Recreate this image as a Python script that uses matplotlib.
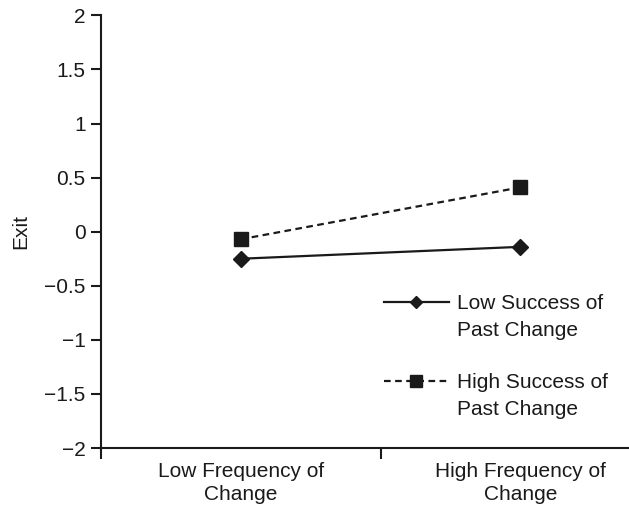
import matplotlib
matplotlib.use("Agg")
import matplotlib.pyplot as plt
from matplotlib.lines import Line2D
from matplotlib.ticker import FixedLocator, FuncFormatter

categories = ["Low Frequency of\nChange", "High Frequency of\nChange"]
low_success = [-0.25, -0.14]
high_success = [-0.07, 0.41]
series_labels = [("Low Success of", "Past Change"), ("High Success of", "Past Change")]
y_ticks = [-2, -1.5, -1, -0.5, 0, 0.5, 1, 1.5, 2]

plt.rcParams['font.family'] = ['Liberation Sans', 'DejaVu Sans']
fs = 15
ink = '#1a1a1a'

fig = plt.figure(figsize=(6.29, 5.07), dpi=100)
ax = fig.add_axes([101/629, 59/507, 559/629, 432.6/507])

x = list(range(len(categories)))
l1, = ax.plot(x, low_success, color=ink, lw=1.6, marker='D', markersize=8)
l2, = ax.plot(x, high_success, color=ink, lw=1.6, ls=(0, (3, 2)), marker='s',
              markersize=10)

ax.set_xlim(-0.5, 1.5)
ax.set_ylim(-2, 2)
for s in ['top', 'right']:
    ax.spines[s].set_visible(False)
for s in ['left', 'bottom']:
    ax.spines[s].set_linewidth(1.5)
    ax.spines[s].set_color(ink)

ax.xaxis.set_major_locator(FixedLocator([-0.5, 0.5, 1.5]))
ax.xaxis.set_major_formatter(FuncFormatter(lambda v, p: ''))
ax.xaxis.set_minor_locator(FixedLocator(x))
ax.set_xticklabels(categories, minor=True)
ax.tick_params(axis='x', which='major', length=8, width=1.5, direction='out', color=ink)
ax.tick_params(axis='x', which='minor', length=0, labelsize=fs, pad=10, colors=ink)
for t in ax.xaxis.get_minorticklabels():
    t.set_linespacing(1.25)

ax.set_yticks(y_ticks)
ax.yaxis.set_major_formatter(FuncFormatter(lambda v, p: ('%g' % v).replace('-', '\u2212')))
ax.tick_params(axis='y', length=7, width=1.5, direction='out', labelsize=fs, pad=4, colors=ink)

ax.set_ylabel('Exit', fontsize=fs, labelpad=10, color=ink)

blank = Line2D([], [], color='none')
h1 = Line2D([], [], color=ink, lw=1.6, marker='D', markersize=6.5)
h2 = Line2D([], [], color=ink, lw=1.6, ls=(0, (3, 2)), marker='s', markersize=8.5)
handles = [h1, blank, blank, h2, blank]
labels = [series_labels[0][0], series_labels[0][1], ' ', series_labels[1][0], series_labels[1][1]]
leg_top_px = 294  # from figure top
leg = ax.legend(handles, labels, loc='upper left',
                bbox_to_anchor=(283/559, ((507 - leg_top_px) - 59)/432.6),
                frameon=False, fontsize=fs, handlelength=3.1, handletextpad=0.4,
                labelspacing=0.36, borderaxespad=0, borderpad=0)
for t in leg.get_texts():
    t.set_color(ink)

fig.savefig('out.png', dpi=100)
